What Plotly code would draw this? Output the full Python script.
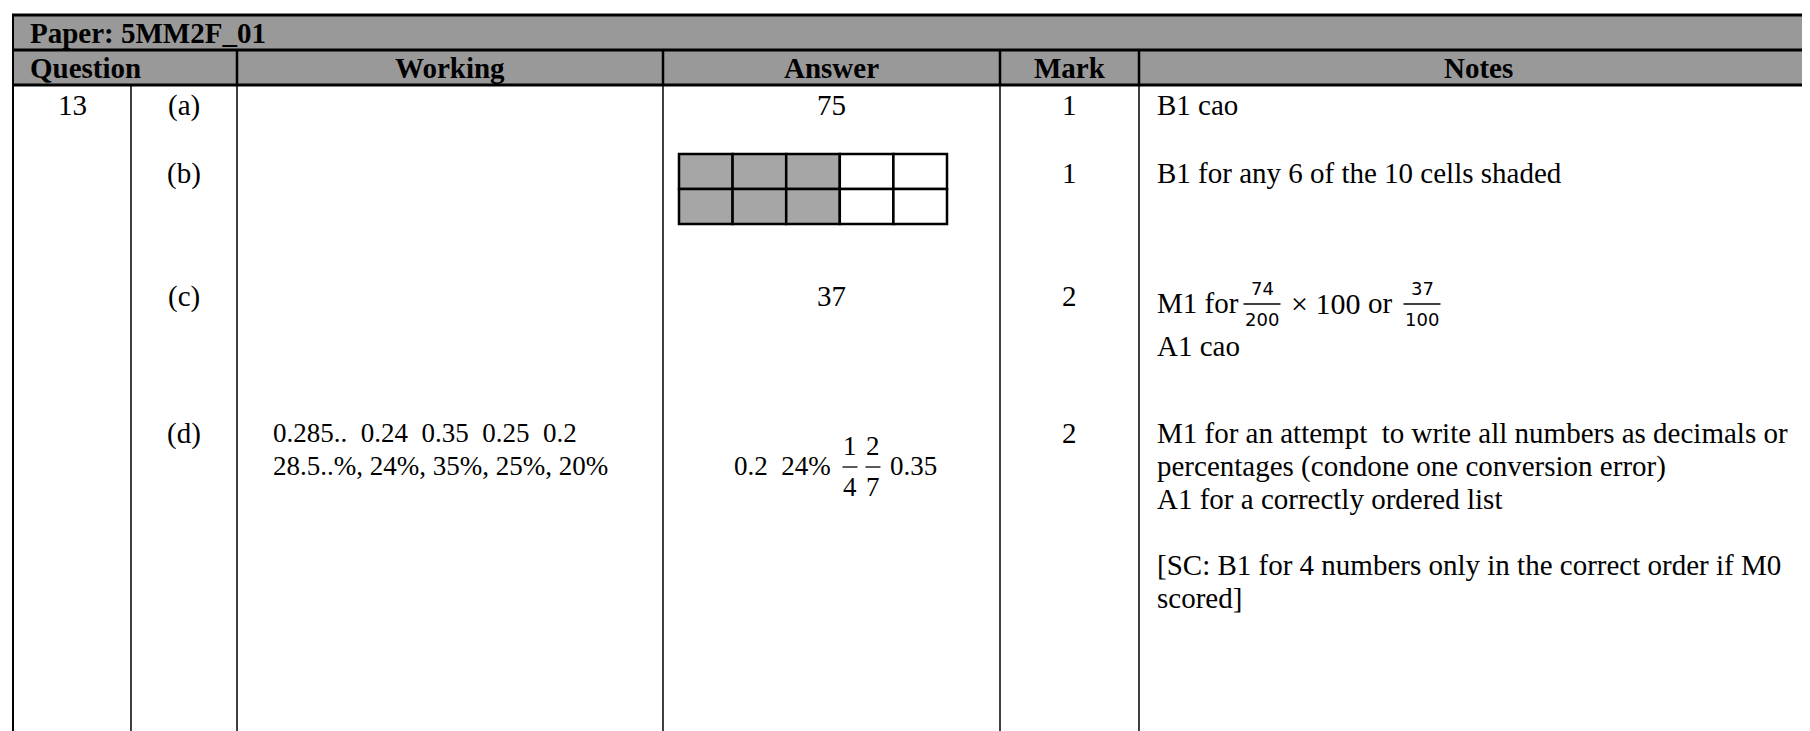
import plotly.graph_objects as go

# ---------------- data (table content) ----------------
paper_label = "Paper: 5MM2F_01"
header_labels = ["Question", "Working", "Answer", "Mark", "Notes"]
question_number = "13"
parts = ["(a)", "(b)", "(c)", "(d)"]
working_lines = [[], [], [], ["0.285..  0.24  0.35  0.25  0.2", "28.5..%, 24%, 35%, 25%, 20%"]]
answer_text = ["75", "", "37", ""]
marks = ["1", "1", "2", "2"]
notes_a = ["B1 cao"]
notes_b = ["B1 for any 6 of the 10 cells shaded"]
notes_c_prefix = "M1 for"
notes_c_fracs = [("74", "200"), ("37", "100")]
notes_c_mid = ["× 100", "or"]
notes_c_second = "A1 cao"
notes_d = ["M1 for an attempt  to write all numbers as decimals or",
           "percentages (condone one conversion error)",
           "A1 for a correctly ordered list",
           "",
           "[SC: B1 for 4 numbers only in the correct order if M0",
           "scored]"]
grid_shaded = [[1, 1, 1, 0, 0],
               [1, 1, 1, 0, 0]]
answer_d_lead = "0.2  24%"
answer_d_fracs = [("1", "4"), ("2", "7")]
answer_d_tail = "0.35"

# ---------------- layout constants ----------------
W, H = 1810, 731
col_x = [5, 123, 229, 655, 992, 1131]
right_x = 1810
y_top, y_sep, y_hdr = 7, 42, 77
part_y = [97, 165, 288, 425]
line_h = 33
FONT = "Liberation Serif"
FS = 29
FS_W = 27
HDR_GREY = "#999999"
CELL_GREY = "#a6a6a6"

fig = go.Figure()
shapes = []
ann = []

def line(x0, y0, x1, y1, w=2):
    shapes.append(dict(type="line", x0=x0, y0=y0, x1=x1, y1=y1, xref="x", yref="y",
                       line=dict(color="black", width=w)))

def text(x, y, s, size=FS, anchor="center", bold=False, font=FONT):
    ann.append(dict(x=x, y=y, xref="x", yref="y", text=("<b>%s</b>" % s) if bold else s,
                    showarrow=False, xanchor=anchor, yanchor="middle",
                    font=dict(family=font, size=size, color="black")))

# header fills
shapes.append(dict(type="rect", x0=col_x[0], y0=y_top, x1=right_x, y1=y_hdr, xref="x", yref="y",
                   fillcolor=HDR_GREY, line=dict(width=0), layer="below"))

# horizontal lines
line(col_x[0] - 1, y_top, right_x, y_top, 3)
line(col_x[0] - 1, y_sep, right_x, y_sep, 3)
line(col_x[0] - 1, y_hdr, right_x, y_hdr, 3)
# vertical lines
line(col_x[0], y_top, col_x[0], H, 2)
line(col_x[1], y_hdr, col_x[1], H, 1.5)
line(col_x[2], y_sep, col_x[2], y_hdr, 2.5)
line(col_x[2], y_hdr, col_x[2], H, 1.5)
for cx in col_x[3:]:
    line(cx, y_sep, cx, y_hdr, 2.5)
    line(cx, y_hdr, cx, H, 1.5)

# header texts
text(20, (y_top + y_sep) / 2, paper_label, anchor="left", bold=True)
hy = (y_sep + y_hdr) / 2
text(20, hy, header_labels[0], anchor="left", bold=True)
for i, lab in enumerate(header_labels[1:], start=2):
    x1 = col_x[i + 1] if i + 1 < len(col_x) else right_x
    text((col_x[i] + x1) / 2, hy, lab, bold=True)

qc = (col_x[0] + col_x[1]) / 2
pc = (col_x[1] + col_x[2]) / 2
ac = (col_x[3] + col_x[4]) / 2
mc = (col_x[4] + col_x[5]) / 2
nx = col_x[5] + 16
wx = 263

text(qc, part_y[0], question_number)
for i, p in enumerate(parts):
    text(pc, part_y[i], p)
    text(mc, part_y[i], marks[i])
    if answer_text[i]:
        text(ac, part_y[i], answer_text[i])
    for j, wl in enumerate(working_lines[i]):
        text(wx, part_y[i] + j * line_h, wl, size=FS_W, anchor="left")

# notes
text(nx, part_y[0], notes_a[0], anchor="left")
text(nx, part_y[1], notes_b[0], anchor="left")
for j, nl in enumerate(notes_d):
    if nl:
        text(nx, part_y[3] + j * line_h, nl, anchor="left")

# notes (c) with fractions
yc = part_y[2] + 7
text(nx, yc, notes_c_prefix, anchor="left")

def frac(xc, y, num, den, size, w, font, dy=15, lw=1.5):
    text(xc, y - dy, num, size=size, font=font)
    text(xc, y + dy + 1, den, size=size, font=font)
    line(xc - w / 2, y + 1, xc + w / 2, y + 1, lw)

frac(1254, yc, notes_c_fracs[0][0], notes_c_fracs[0][1], 18, 37, "DejaVu Sans")
text(1281, yc, notes_c_mid[0], size=30, anchor="left")
text(1358, yc, notes_c_mid[1], anchor="left")
frac(1414, yc, notes_c_fracs[1][0], notes_c_fracs[1][1], 18, 37, "DejaVu Sans")
text(nx, part_y[2] + 50, notes_c_second, anchor="left")

# answer (b) grid
gx0, gx1, gy0, gy1 = 671, 939, 146, 216
nr, nc = len(grid_shaded), len(grid_shaded[0])
cw, ch = (gx1 - gx0) / nc, (gy1 - gy0) / nr
for r in range(nr):
    for c in range(nc):
        shapes.append(dict(type="rect", x0=gx0 + c * cw, x1=gx0 + (c + 1) * cw,
                           y0=gy0 + r * ch, y1=gy0 + (r + 1) * ch, xref="x", yref="y",
                           fillcolor=CELL_GREY if grid_shaded[r][c] else "white",
                           line=dict(color="black", width=2.5)))

# answer (d): 0.2  24%  1/4  2/7  0.35
yd = part_y[3] + 33
text(724, yd, answer_d_lead, size=FS_W, anchor="left")
for k, (num, den) in enumerate(answer_d_fracs):
    fx = 842 + k * 23
    frac(fx, yd, num, den, FS_W, 15, FONT, dy=20, lw=1.3)
text(880, yd, answer_d_tail, size=FS_W, anchor="left")

fig.update_layout(
    width=W, height=H, margin=dict(l=0, r=0, t=0, b=0),
    paper_bgcolor="white", plot_bgcolor="white",
    xaxis=dict(range=[0, W], visible=False, fixedrange=True),
    yaxis=dict(range=[H, 0], visible=False, fixedrange=True),
    shapes=shapes, annotations=ann, showlegend=False,
)
fig.write_html("out.html")
